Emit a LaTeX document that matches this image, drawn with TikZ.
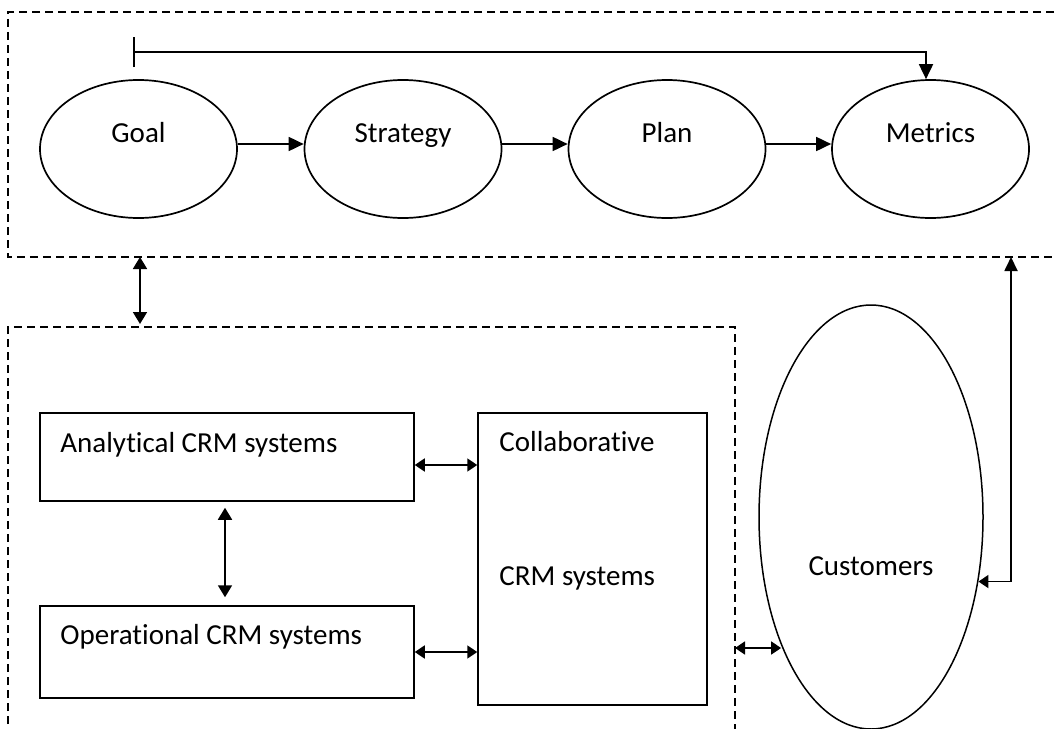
\documentclass[tikz,border=0pt]{standalone}
\usepackage{fontspec}
\setmainfont[Ligatures=NoCommon]{Carlito}
\usetikzlibrary{arrows.meta,shapes.geometric,calc}
\begin{document}
\begin{tikzpicture}[x=1pt,y=-1pt,
  font=\fontsize{29}{34}\selectfont,
  oval/.style={draw, line width=1.7pt, ellipse, inner sep=0pt},
  sysbox/.style={draw, line width=1.5pt, rectangle, inner sep=0pt},
  frame/.style={line width=1.5pt, dash pattern=on 8pt off 5pt},
  txt/.style={inner sep=0pt, text height=20pt, text depth=6pt},
  link/.style={line width=1.8pt, -{Triangle[length=15pt,width=14pt]}},
  dlink/.style={line width=1.8pt, {Triangle[length=10pt,width=13pt]}-{Triangle[length=10pt,width=13pt]}},
  dlinkb/.style={line width=1.8pt, {Triangle[length=12pt,width=14pt]}-{Triangle[length=12pt,width=14pt]}}
]
\useasboundingbox (0,0) rectangle (1056,728);
\begin{scope}
  \clip (0,0) rectangle (1056,728);
  \draw[frame] (1080,12) -- (8,12) -- (8,257) -- (1080,257);
  \draw[frame] (8,750) -- (8,327) -- (735,327) -- (735,750);
\end{scope}

% top row
\node[oval, minimum width=197pt, minimum height=138pt,
      label={[txt, anchor=base, yshift=14pt]center:Goal}] (goal) at (138.5,149) {};
\node[oval, minimum width=197pt, minimum height=138pt,
      label={[txt, anchor=base, yshift=14pt]center:Strategy}] (strategy) at (403,149) {};
\node[oval, minimum width=197pt, minimum height=138pt,
      label={[txt, anchor=base, yshift=14pt]center:Plan}] (plan) at (667,149) {};
\node[oval, minimum width=197pt, minimum height=138pt,
      label={[txt, anchor=base, yshift=14pt]center:Metrics}] (metrics) at (930.5,149) {};

\draw[link] ([yshift=5pt]goal.east) -- ([yshift=5pt]strategy.west);
\draw[link] ([yshift=5pt]strategy.east) -- ([yshift=5pt]plan.west);
\draw[link] ([yshift=5pt]plan.east) -- ([yshift=5pt]metrics.west);

\coordinate (barstart) at (133,52);
\draw[line width=1.8pt, {Bar[width=30pt,line width=1.8pt]}-{Triangle[length=15pt,width=14pt]}]
  (barstart) -| ([xshift=-4.5pt]metrics.north);

% bottom part
\node[sysbox, minimum width=374pt, minimum height=88pt,
      label={[txt, anchor=base west, xshift=21pt, yshift=-40pt]north west:Analytical CRM systems}] (ana) at (227,457) {};
\node[sysbox, minimum width=374pt, minimum height=92pt,
      label={[txt, anchor=base west, xshift=21pt, yshift=-39pt]north west:Operational CRM systems}] (ope) at (227,652) {};
\node[sysbox, minimum width=229pt, minimum height=292pt,
      label={[txt, anchor=base west, xshift=22pt, yshift=-39pt]north west:Collaborative},
      label={[txt, anchor=base west, xshift=22pt, yshift=-173pt]north west:CRM systems}] (collab) at (592.5,559) {};
\node[oval, line width=1.5pt, minimum width=224pt, minimum height=424pt,
      label={[txt, anchor=base, yshift=-51pt]center:Customers}] (cust) at (871,517) {};

\draw[dlink] ([yshift=-8pt]ana.east) -- ([yshift=-8pt]ana.east -| collab.west);
\draw[dlink] (ope.east) -- (ope.east -| collab.west);
\draw[dlinkb, shorten <=6pt, shorten >=8pt] ([xshift=-2pt]ana.south) -- ([xshift=-2pt]ope.north);

\coordinate (topframeL) at (140,257);
\coordinate (botframeT) at (140,324);
\draw[dlinkb] (topframeL) -- (botframeT);

\coordinate (frameR) at (735,648);
\draw[dlink] (frameR) -- (frameR -| cust.235.9);

\coordinate (topframeR) at (1011,257);
\draw[line width=1.8pt, {Triangle[length=10pt,width=13pt]}-{Triangle[length=14pt,width=13pt]}]
  (cust.329.7) -| (topframeR);
\end{tikzpicture}
\end{document}
